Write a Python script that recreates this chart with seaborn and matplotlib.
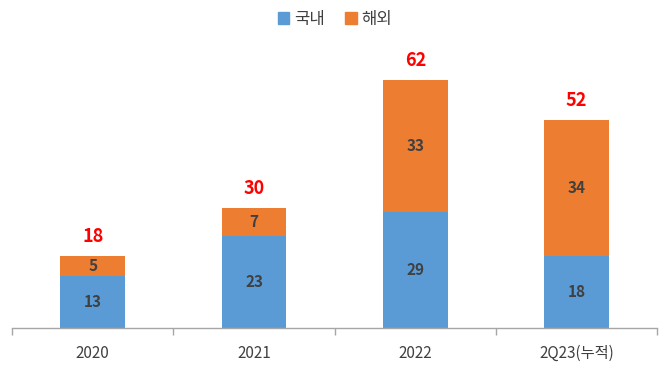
import matplotlib
matplotlib.use("Agg")
import matplotlib.pyplot as plt
import pandas as pd
import seaborn as sns
from matplotlib.patches import Patch

# data
categories = ["2020", "2021", "2022", "2Q23(누적)"]
domestic = [13, 23, 29, 18]
overseas = [5, 7, 33, 34]
totals = [d + o for d, o in zip(domestic, overseas)]

BLUE = "#5B9BD5"
ORANGE = "#ED7D31"
LABEL = "#404040"

sns.set_style("white")
plt.rcParams["font.family"] = ["Noto Sans CJK KR", "DejaVu Sans"]

df = pd.DataFrame({"category": categories, "국내": domestic, "해외": overseas, "total": totals})

fig = plt.figure(figsize=(6.7, 3.67), dpi=100)
ax = fig.add_axes([0.018, 0.106, 0.963, 0.763])

# total bar height first, then domestic on top of it -> stacked look
sns.barplot(data=df, x="category", y="total", color=ORANGE, width=0.4, saturation=1,
            linewidth=0, ax=ax)
sns.barplot(data=df, x="category", y="국내", color=BLUE, width=0.4, saturation=1,
            linewidth=0, ax=ax)

for i, (d, o, t) in enumerate(zip(domestic, overseas, totals)):
    ax.text(i, d / 2, str(d), ha="center", va="center", fontsize=11, fontweight="bold", color=LABEL)
    ax.text(i, d + o / 2, str(o), ha="center", va="center", fontsize=11, fontweight="bold", color=LABEL)
    ax.annotate(str(t), (i, t), xytext=(0, 14), textcoords="offset points",
                ha="center", va="center", fontsize=13, fontweight="bold", color="#FF0000")

ax.set_xlim(-0.5, len(categories) - 0.5)
ax.set_ylim(0, 70)
ax.set_xlabel("")
ax.set_ylabel("")
ax.set_yticks([])
for side in ["top", "right", "left"]:
    ax.spines[side].set_visible(False)
ax.spines["bottom"].set_color("#A6A6A6")
ax.spines["bottom"].set_linewidth(1)

# tick marks sit between categories, labels at the centres
ax.set_xticks([i - 0.5 for i in range(len(categories) + 1)], minor=True)
ax.tick_params(axis="x", which="minor", bottom=True, length=5, color="#A6A6A6",
               direction="out", width=1)
ax.tick_params(axis="x", which="major", bottom=True, length=0, labelsize=11,
               labelcolor="#404040", pad=12)

handles = [Patch(color=BLUE, label="국내"), Patch(color=ORANGE, label="해외")]
fig.legend(handles=handles, loc="center", bbox_to_anchor=(0.5, 0.948), ncol=2, frameon=False,
           fontsize=12, handlelength=0.7, handleheight=0.7, handletextpad=0.3, columnspacing=1.2,
           labelcolor="#404040")

fig.savefig("out.png", dpi=100)
